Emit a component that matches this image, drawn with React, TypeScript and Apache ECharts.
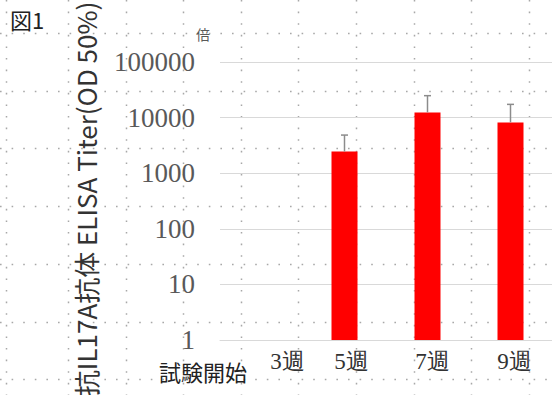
import React, { useEffect, useRef } from "react";
import * as echarts from "echarts";

// Weeks after the start of the trial, titers (geometric scale) and upper error
const weeks = ["3週", "5週", "7週", "9週"];
const titerMean: (number | null)[] = [null, 2450, 12400, 8200];
const titerError: (number | null)[] = [null, 2400, 12400, 9100];
const yTicks = [1, 10, 100, 1000, 10000, 100000];

const yTitle = "抗IL17A抗体 ELISA Titer(OD 50%)";
const unitLabel = "倍";
const startLabel = "試験開始";
const figLabel = "図1";

// horizontal nudge of each week label (px)
const labelNudge = [26, 7, 5, 4];

const W = 552;
const H = 395;
const SERIF = '"Liberation Serif", "Times New Roman", serif';

function sheetGrid() {
  const els: any[] = [];
  const dot = { stroke: "#a8a8a8", lineWidth: 1.5, lineDash: [1.6, 10] };
  for (let k = 0; k < 7; k++) {
    const y = Math.round(33 + 57.7 * k) + 0.5;
    els.push({ type: "line", silent: true, z: -10, shape: { x1: 0, y1: y, x2: W, y2: y }, style: dot });
  }
  const xs = [6];
  for (let k = 0; k < 9; k++) xs.push(68 + 57.6 * k);
  xs.forEach((x) => {
    const xx = Math.round(x) + 0.5;
    els.push({ type: "line", silent: true, z: -10, shape: { x1: xx, y1: 0, x2: xx, y2: H }, style: dot });
  });
  return els;
}

export default function App() {
  const ref = useRef<HTMLDivElement>(null);

  useEffect(() => {
    if (!ref.current) return;
    const chart = echarts.init(ref.current, null, { renderer: "svg" });

    const rich: Record<string, any> = {};
    labelNudge.forEach((n, i) => {
      rich["w" + i] = {
        fontFamily: SERIF,
        fontSize: 23,
        color: "#333333",
        padding: [0, 0, 0, n * 2],
      };
    });

    const errData = weeks
      .map((_, i) =>
        titerMean[i] == null
          ? null
          : [i, titerMean[i], (titerMean[i] as number) + (titerError[i] as number)]
      )
      .filter((d) => d != null);

    chart.setOption({
      animation: false,
      backgroundColor: "#ffffff",
      grid: {
        left: 220,
        right: 0,
        top: 62,
        bottom: 55,
        containLabel: false,
        outerBoundsMode: "none",
      },
      xAxis: {
        type: "category",
        data: weeks,
        axisLine: { show: true, lineStyle: { color: "#d9d9d9", width: 1 } },
        axisTick: { show: false },
        axisLabel: {
          margin: 10,
          interval: 0,
          formatter: (v: string) => `{w${weeks.indexOf(v)}|${v}}`,
          rich,
        },
      },
      yAxis: {
        type: "log",
        logBase: 10,
        min: yTicks[0],
        max: yTicks[yTicks.length - 1],
        axisLine: { show: false },
        axisTick: { show: false },
        splitLine: { show: true, lineStyle: { color: "#d9d9d9", width: 1 } },
        axisLabel: {
          margin: 25,
          color: "#595959",
          fontSize: 27,
          lineHeight: 22,
          fontFamily: SERIF,
          formatter: (v: number) => String(Math.round(v)),
        },
      },
      series: [
        {
          type: "bar",
          data: titerMean.map((v) => (v == null ? "-" : v)),
          barWidth: 26,
          itemStyle: { color: "#ff0000" },
          z: 2,
        },
        {
          type: "custom",
          data: errData,
          z: 3,
          renderItem: (params: any, api: any) => {
            const i = api.value(0);
            const lo = api.coord([i, api.value(1)]);
            const hi = api.coord([i, api.value(2)]);
            const style = { stroke: "#8c8c8c", lineWidth: 1.5 };
            return {
              type: "group",
              children: [
                { type: "line", shape: { x1: lo[0], y1: lo[1], x2: hi[0], y2: hi[1] }, style },
                { type: "line", shape: { x1: hi[0] - 3.5, y1: hi[1], x2: hi[0] + 3.5, y2: hi[1] }, style },
              ],
            };
          },
        },
      ],
      graphic: [
        ...sheetGrid(),
        {
          type: "text",
          x: 10,
          y: 19,
          style: {
            text: figLabel,
            font: '22px "Noto Sans CJK JP", sans-serif',
            fill: "#222222",
            textVerticalAlign: "middle",
          },
        },
        {
          type: "text",
          x: 85,
          y: 199,
          rotation: Math.PI / 2,
          style: {
            text: yTitle,
            font: '26px "Noto Sans CJK JP", sans-serif',
            fill: "#333333",
            textAlign: "center",
            textVerticalAlign: "middle",
          },
        },
        {
          type: "text",
          x: 203,
          y: 34,
          style: {
            text: unitLabel,
            font: '14px "Noto Sans CJK JP", sans-serif',
            fill: "#595959",
            textAlign: "center",
            textVerticalAlign: "middle",
          },
        },
        {
          type: "text",
          x: 203,
          y: 371,
          style: {
            text: startLabel,
            font: '22px "Noto Sans CJK JP", sans-serif',
            fill: "#222222",
            textAlign: "center",
            textVerticalAlign: "middle",
          },
        },
      ],
    });

    return () => chart.dispose();
  }, []);

  return (
    <div
      ref={ref}
      style={{ position: "absolute", left: 0, top: 0, width: W, height: H }}
    />
  );
}
